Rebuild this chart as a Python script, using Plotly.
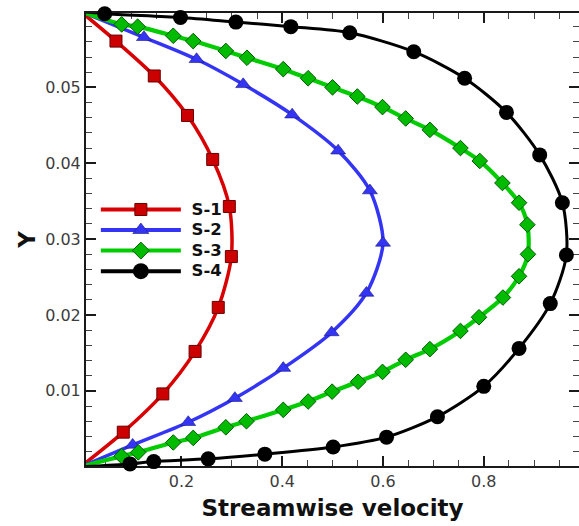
import plotly.graph_objects as go

# Streamwise velocity profiles across the channel (velocity, Y) for four cases.
# Each profile is pinned to zero velocity at the two walls (Y = 0 and Y = 0.06).
wall_y = [0.06, 0.0]

s1_u = [0.070, 0.146, 0.212, 0.262, 0.295, 0.299, 0.273, 0.227, 0.163, 0.0845]
s1_y = [0.0561, 0.0515, 0.0463, 0.0405, 0.0343, 0.0277, 0.0210, 0.0152, 0.0096, 0.00456]

s2_u = [0.1255, 0.230, 0.3225, 0.4197, 0.511, 0.574, 0.600, 0.567, 0.498, 0.402,
        0.306, 0.2134, 0.1031]
s2_y = [0.0566, 0.0537, 0.0504, 0.0464, 0.04165, 0.0364, 0.0295, 0.0229, 0.0177,
        0.0130, 0.00904, 0.00587, 0.00288]

s3_u = [0.0813, 0.113, 0.1837, 0.2233, 0.288, 0.330, 0.402, 0.4514, 0.4998, 0.549,
        0.599, 0.645, 0.693, 0.7537, 0.792, 0.837, 0.870, 0.8865, 0.8877, 0.870,
        0.838, 0.7905, 0.7537, 0.693, 0.645, 0.599, 0.5506, 0.499, 0.4514, 0.402,
        0.329, 0.288, 0.2233, 0.1837, 0.1142, 0.0813]
s3_y = [0.0583, 0.0580, 0.0568, 0.0561, 0.0548, 0.0539, 0.0524, 0.0512, 0.0500, 0.0488,
        0.0474, 0.0459, 0.0444, 0.0420, 0.0403, 0.0374, 0.0348, 0.0319, 0.0280, 0.0251,
        0.0223, 0.0197, 0.0179, 0.0155, 0.0141, 0.0125, 0.0112, 0.0099, 0.0086, 0.0075,
        0.0060, 0.0052, 0.0038, 0.0032, 0.0019, 0.0014]

s4_u = [0.0476, 0.198, 0.308, 0.417, 0.534, 0.661, 0.762, 0.845, 0.911, 0.956,
        0.964, 0.932, 0.870, 0.800, 0.708, 0.607, 0.501, 0.3655, 0.253, 0.145, 0.0978]
s4_y = [0.0597, 0.0592, 0.0586, 0.0580, 0.0572, 0.0547, 0.0512, 0.0467, 0.0411, 0.0348,
        0.0279, 0.0215, 0.0156, 0.0106, 0.0066, 0.0039, 0.0026, 0.00166, 0.00104,
        0.00068, 0.00038]

names = ["S-1", "S-2", "S-3", "S-4"]

FONT = "DejaVu Sans"

series = [
    dict(u=s1_u, y=s1_y, line="#d80000", fill="#cc0000", edge="#6a0000",
         symbol="square", size=12, lsize=12, width=3.5, edgew=1),
    dict(u=s2_u, y=s2_y, line="#3434f4", fill="#3434f4", edge="#1a1a80",
         symbol="triangle-up", size=13, lsize=14, width=3.5, edgew=0.6),
    dict(u=s3_u, y=s3_y, line="#00cc00", fill="#00bb00", edge="#005a00",
         symbol="diamond", size=12, lsize=13, width=4.2, edgew=1),
    dict(u=s4_u, y=s4_y, line="#000000", fill="#000000", edge="#000000",
         symbol="circle", size=15, lsize=16, width=3, edgew=0),
]

fig = go.Figure()

for name, s in zip(names, series):
    u = [0.0] + s["u"] + [0.0]
    y = [wall_y[0]] + s["y"] + [wall_y[1]]
    n = len(s["u"])
    sizes = [0] + [s["size"]] * n + [0]
    edges = [0] + [s["edgew"]] * n + [0]
    fig.add_trace(go.Scatter(
        x=u, y=y, mode="lines+markers", name=name, showlegend=False,
        cliponaxis=False,
        line=dict(color=s["line"], width=s["width"], shape="spline", smoothing=0.8),
        marker=dict(symbol=s["symbol"], size=sizes, color=s["fill"], opacity=1,
                    line=dict(color=s["edge"], width=edges)),
    ))

# legend keys
for name, s in zip(names, series):
    fig.add_trace(go.Scatter(
        x=[None], y=[None], mode="lines+markers",
        name="<span style='font-size:16.5px'>&nbsp;" + name + "</span>",
        line=dict(color=s["line"], width=4),
        marker=dict(symbol=s["symbol"], size=s["lsize"], color=s["fill"], opacity=1,
                    line=dict(color=s["edge"], width=s["edgew"])),
    ))

axis_common = dict(
    showline=True, linecolor="#1a1a1a", linewidth=2, mirror="ticks",
    ticks="inside", ticklen=10, tickwidth=1.6, tickcolor="#1a1a1a",
    showgrid=False, zeroline=False, layer="below traces",
    tickfont=dict(family=FONT, size=16, color="#3c3c3c"),
)

fig.update_xaxes(
    range=[0.0105, 0.989], dtick=0.2, tick0=0,
    minor=dict(dtick=0.05, ticks="inside", ticklen=6, tickwidth=1, tickcolor="#444444"),
    title=dict(text="<b>Streamwise velocity</b>", standoff=10,
               font=dict(family=FONT, size=23, color="#111111")),
    **axis_common,
)
fig.update_yaxes(
    range=[0.0001, 0.0598], dtick=0.01, tick0=0,
    minor=dict(dtick=0.002, ticks="inside", ticklen=6, tickwidth=1, tickcolor="#444444"),
    title=dict(text="<b>Y</b>", standoff=3,
               font=dict(family=FONT, size=23, color="#111111")),
    **axis_common,
)

fig.update_layout(
    width=579, height=526,
    margin=dict(l=86, r=0, t=13, b=60, autoexpand=False),
    plot_bgcolor="white", paper_bgcolor="white",
    legend=dict(
        x=0.02, y=0.6, xanchor="left", yanchor="top",
        bgcolor="rgba(0,0,0,0)", borderwidth=0,
        itemwidth=80,
        font=dict(family=FONT, size=13.5, color="#111111", weight="bold"),
        tracegroupgap=0,
    ),
)

fig.write_html("out.html")
